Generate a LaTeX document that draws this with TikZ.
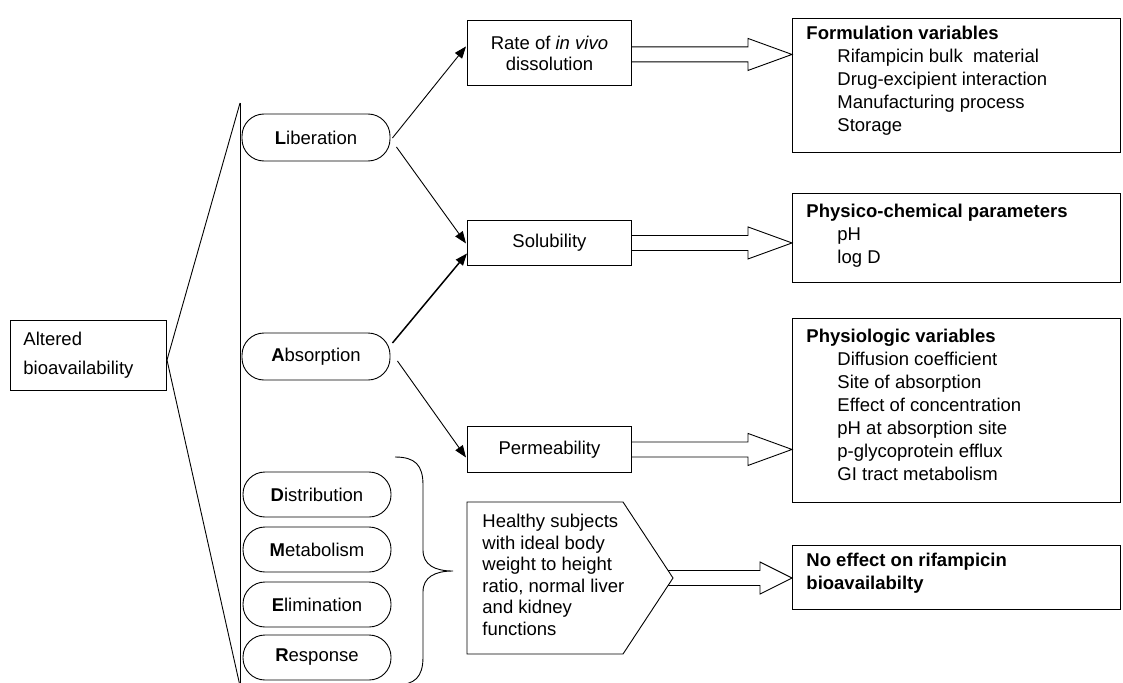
\documentclass[tikz,border=0pt]{standalone}
\usepackage{fontspec}
\setmainfont{Liberation Sans}
\usetikzlibrary{calc,arrows.meta}
\newcommand\blockarr[3]{%
  \draw let \p1=(#1), \p2=(#2.west) in
    (\x1,\y1+7.5pt) -- (\x2-#3,\y1+7.5pt) -- (\x2-#3,\y1+16pt) -- (\x2,\y1)
    -- (\x2-#3,\y1-16pt) -- (\x2-#3,\y1-7.5pt) -- (\x1,\y1-7.5pt);}
\newcommand\ind{\hspace*{31pt}}
\begin{document}
\begin{tikzpicture}[x=1pt,y=-1pt,line width=0.9pt,
  font=\fontsize{18.5}{23}\selectfont,
  box/.style={draw,inner sep=0pt,anchor=north west,align=center},
  oval/.style={draw,rounded corners=22pt,minimum width=148pt,inner sep=0pt},
  txt/.style={inner sep=0pt,anchor=north west,align=left},
  arr/.style={-{Triangle[length=12pt,width=9pt]}}]
\useasboundingbox (0,0) rectangle (1123,682);
% left box and fan
\node[box,minimum width=155pt,minimum height=70pt,text width=130pt,align=left,
  inner xsep=13pt,font=\fontsize{18.5}{29}\selectfont] (alt) at (10,320) {Altered\\bioavailability};
\coordinate (apex) at (167,360);
\coordinate (ftop) at (240,103);
\coordinate (fbot) at (240,686);
\draw (ftop) -- (apex) -- (fbot);
\draw (ftop) -- (fbot);
% ovals
\node[oval,minimum height=47pt] (lib) at (316,137.5) {\textbf{L}iberation};
\node[oval,minimum height=47pt] (abs) at (316,356.5) {\textbf{A}bsorption};
\node[oval,minimum height=45pt] (dis) at (317,494.5) {\textbf{D}istribution};
\node[oval,minimum height=45pt] (met) at (317,549.5) {\textbf{M}etabolism};
\node[oval,minimum height=45pt] (eli) at (317,604.5) {\textbf{E}limination};
\node[oval,minimum height=45pt] (res) at (317,657.5) {\textbf{R}esponse};
% brace
\draw (395,457) .. controls (415,457) and (423,465) .. (423,485) -- (423,550)
  .. controls (423,565) and (435,571) .. (453,571)
  .. controls (435,571) and (423,577) .. (423,592) -- (423,657)
  .. controls (423,677) and (415,685) .. (395,685);
% middle boxes
\node[box,minimum width=164pt,minimum height=65pt,font=\fontsize{18.5}{21}\selectfont] (rate) at (467,20) {Rate of \textit{in vivo}\\dissolution};
\node[box,minimum width=164pt,minimum height=45pt] (sol) at (467,220) {Solubility};
\node[box,minimum width=164pt,minimum height=46pt] (perm) at (467,426) {Permeability};
% right boxes
\node[box,minimum width=328pt,minimum height=134pt] (form) at (792,18) {};
\node[box,minimum width=328pt,minimum height=89pt] (phys) at (792,193) {};
\node[box,minimum width=328pt,minimum height=184pt] (physio) at (792,318) {};
\node[box,minimum width=328pt,minimum height=64pt] (noeff) at (792,545) {};
\node[txt] (formt) at (806,26) {\textbf{Formulation variables}\\\ind Rifampicin bulk\ \ material\\\ind Drug-excipient interaction\\\ind Manufacturing process\\\ind Storage};
\node[txt] (physt) at (806,204) {\textbf{Physico-chemical parameters}\\\ind pH\\\ind log D};
\node[txt] (physiot) at (806,329) {\textbf{Physiologic variables}\\\ind Diffusion coefficient\\\ind Site of absorption\\\ind Effect of concentration\\\ind pH at absorption site\\\ind p-glycoprotein efflux\\\ind GI tract metabolism};
\node[txt] (noefft) at (806,553) {\textbf{No effect on rifampicin}\\\textbf{bioavailabilty}};
% thin arrows
\draw[arr] ($(lib.east)+(2,0.5)$) -- ($(rate.west)+(-1,-6.5)$);
\draw[arr] ($(lib.east)+(6,9.5)$) -- ($(sol.west)+(-1,0.5)$);
\draw[arr,line width=1.5pt] ($(abs.east)+(2,-13.5)$) -- ($(sol.west)+(0,10.5)$);
\draw[arr] ($(abs.east)+(7,4.5)$) -- ($(perm.west)+(-1,8)$);
% block arrows
\blockarr{$(rate.east)+(0,1.5)$}{form}{44pt}
\blockarr{sol.east}{phys}{44pt}
\blockarr{perm.east}{physio}{44pt}
\coordinate (htip) at (673,578);
\blockarr{$(htip)+(-12,0)$}{noeff}{32pt}
% pentagon
\draw[fill=white] (467,502) -- (623,502) -- (htip) -- (623,654) -- (467,654) -- cycle;
\node[txt,font=\fontsize{18.5}{21.5}\selectfont] (healthy) at (482,514) {Healthy subjects\\with ideal body\\weight to height\\ratio, normal liver\\and kidney\\functions};
\end{tikzpicture}
\end{document}
